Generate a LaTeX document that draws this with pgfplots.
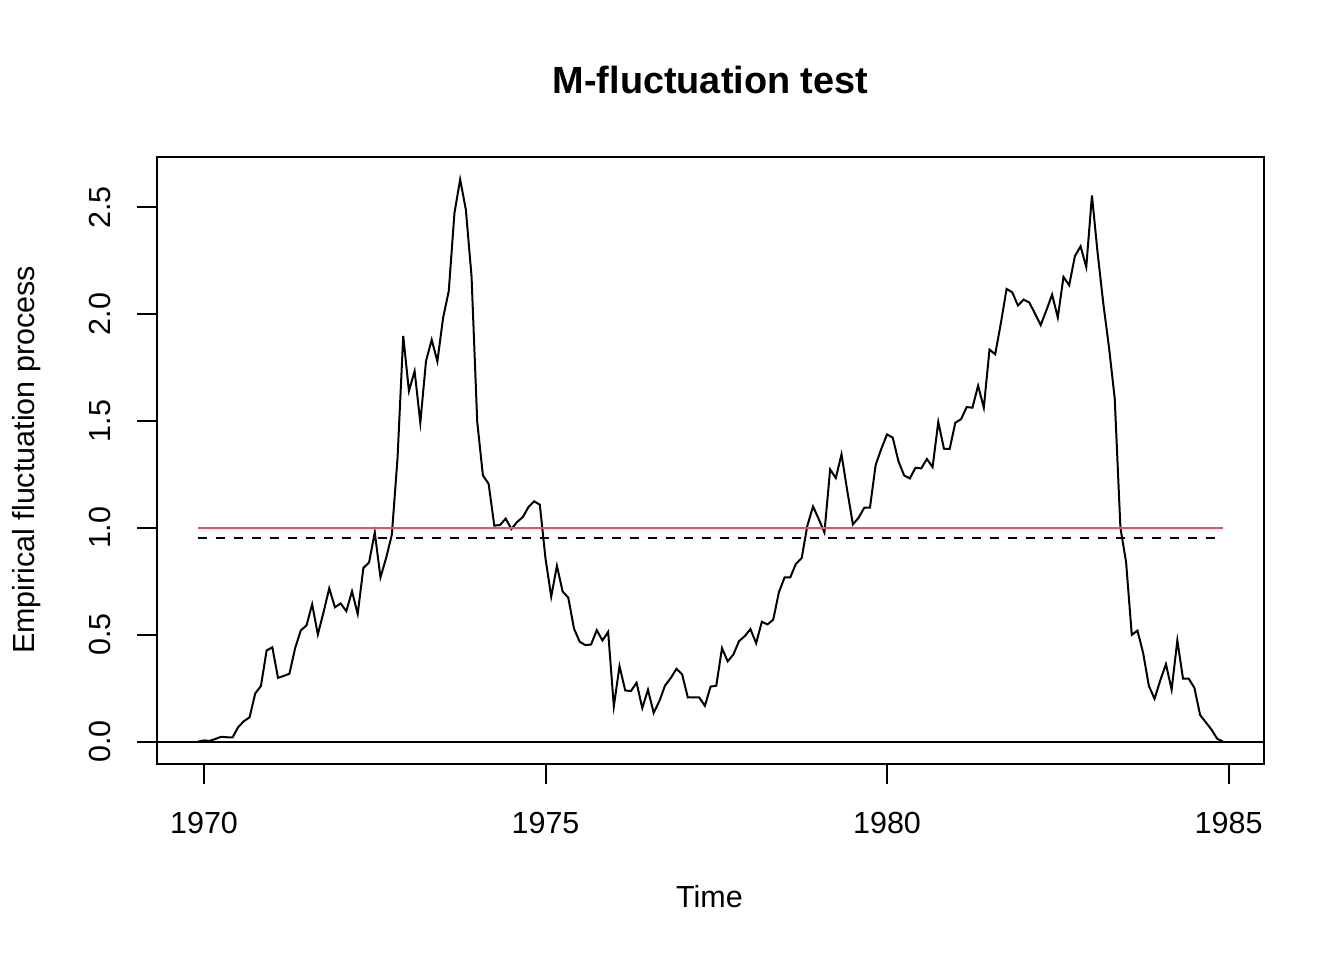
\documentclass[border=0pt]{standalone}
\usepackage{fontspec}
\setmainfont{Liberation Sans}
\usepackage{pgfplots}
\pgfplotsset{compat=1.18}
\usepackage{pgfplotstable}
\definecolor{rred}{HTML}{DF536B}
\pgfplotstableread{
i y
-1 0
0 0.005
1 0.003
2 0.012
3 0.022
4 0.020
5 0.019
6 0.067
7 0.095
8 0.113
9 0.225
10 0.260
11 0.426
12 0.441
13 0.298
14 0.307
15 0.317
16 0.436
17 0.520
18 0.543
19 0.642
20 0.501
21 0.605
22 0.717
23 0.628
24 0.646
25 0.610
26 0.703
27 0.597
28 0.812
29 0.838
30 0.978
31 0.768
32 0.859
33 0.968
34 1.327
35 1.898
36 1.640
37 1.733
38 1.492
39 1.780
40 1.880
41 1.779
42 1.982
43 2.108
44 2.473
45 2.630
46 2.489
47 2.177
48 1.495
49 1.245
50 1.206
51 1.010
52 1.013
53 1.043
54 0.994
55 1.027
56 1.050
57 1.097
58 1.124
59 1.108
60 0.855
61 0.678
62 0.822
63 0.702
64 0.673
65 0.528
66 0.467
67 0.451
68 0.454
69 0.521
70 0.473
71 0.513
72 0.165
73 0.353
74 0.239
75 0.236
76 0.275
77 0.156
78 0.242
79 0.134
80 0.189
81 0.262
82 0.297
83 0.340
84 0.314
85 0.206
86 0.207
87 0.206
88 0.167
89 0.257
90 0.261
91 0.437
92 0.375
93 0.407
94 0.470
95 0.493
96 0.526
97 0.460
98 0.560
99 0.548
100 0.570
101 0.698
102 0.768
103 0.768
104 0.832
105 0.858
106 1.010
107 1.100
108 1.041
109 0.978
110 1.273
111 1.233
112 1.344
113 1.175
114 1.016
115 1.047
116 1.094
117 1.094
118 1.294
119 1.370
120 1.437
121 1.422
122 1.312
123 1.245
124 1.231
125 1.281
126 1.278
127 1.322
128 1.284
129 1.495
130 1.370
131 1.369
132 1.492
133 1.508
134 1.565
135 1.562
136 1.665
137 1.562
138 1.834
139 1.812
140 1.958
141 2.118
142 2.102
143 2.040
144 2.068
145 2.054
146 2.002
147 1.949
148 2.018
149 2.091
150 1.984
151 2.174
152 2.135
153 2.271
154 2.317
155 2.220
156 2.555
157 2.285
158 2.048
159 1.843
160 1.605
161 1.000
162 0.839
163 0.499
164 0.519
165 0.413
166 0.260
167 0.200
168 0.286
169 0.362
170 0.243
171 0.473
172 0.294
173 0.294
174 0.251
175 0.124
176 0.090
177 0.056
178 0.013
179 0
}\efp

\begin{document}
\begin{tikzpicture}[x=1bp,y=1bp]
\path[use as bounding box] (0,0) rectangle (672,480);
\begin{axis}[
  at={(78.65bp,98bp)}, anchor=south west,
  scale only axis, width=553.1bp, height=303.5bp,
  xmin=1969.316, xmax=1985.512, ymin=-0.1052, ymax=2.7352,
  axis line style={line width=1bp},
  xtick={1970,1975,1980,1985},
  ytick={0,0.5,1,1.5,2,2.5},
  xtick pos=bottom, ytick pos=left,
  tick align=outside, major tick length=10bp,
  tick style={line width=1bp, black},
  font=\fontsize{15.3}{18}\selectfont,
  ticklabel style={font=\fontsize{15.3}{18}\selectfont},
  /pgf/number format/assume math mode=true,
  xticklabel style={/pgf/number format/1000 sep={}, anchor=base, yshift=-24.65bp},
  yticklabel style={/pgf/number format/fixed, /pgf/number format/fixed zerofill, /pgf/number format/precision=1, xshift=-13.65bp, rotate=90, anchor=base},
  clip=true,
]
\addplot[black, line width=1bp, mark=none] table[x expr=1970+\thisrow{i}/12, y=y]{\efp};
\addplot[rred, line width=1bp, mark=none] coordinates {(1969.9167,1) (1984.9167,1)};
\addplot[black, line width=1bp, mark=none, dash pattern=on 4.5bp off 4.5bp] coordinates {(1969.9167,0.9533) (1984.9167,0.9533)};
\addplot[black, line width=1bp, mark=none] coordinates {(1969.316,0) (1985.512,0)};
\end{axis}
\node[anchor=base, font=\fontsize{19}{22}\selectfont\bfseries] at (355.25,433.35) {M-fluctuation test};
\node[anchor=base, font=\fontsize{15.3}{18}\selectfont] at (354.7,26.35) {Time};
\node[anchor=base, rotate=90, font=\fontsize{15.3}{18}\selectfont] at (17.15,250) {Empirical fluctuation process};
\end{tikzpicture}
\end{document}
